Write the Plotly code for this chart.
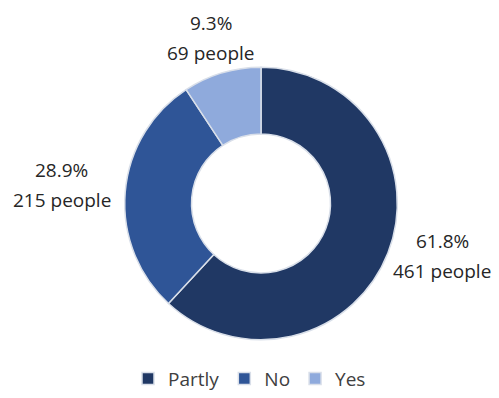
import math
import plotly.graph_objects as go

labels = ["Partly", "No", "Yes"]
values = [461, 215, 69]
percents = [61.8, 28.9, 9.3]
colors = ["#203864", "#2F5597", "#8FAADC"]

W, H = 499, 398
cx, cy, R = 261, 206, 138
label_r = [189, 200, 175]
label_nudge_deg = [-5, 0.5, 0]

total = sum(values)
fig = go.Figure(go.Pie(
    labels=labels, values=values, hole=0.51, sort=False, direction="clockwise",
    rotation=0, marker=dict(colors=colors, line=dict(color="#d9dfe9", width=1.5)),
    textinfo="none", hoverinfo="label+value+percent",
    domain=dict(x=[(cx - R) / W, (cx + R) / W], y=[(H - cy - R) / H, (H - cy + R) / H]),
))

cum = 0
for lab, v, p, r, nd in zip(labels, values, percents, label_r, label_nudge_deg):
    mid = (cum + v / 2) / total * 2 * math.pi + math.radians(nd)
    cum += v
    x = cx + r * math.sin(mid)
    y = cy - r * math.cos(mid)
    for txt, shift in ((f"{p:.1f}%", 15), (f"{v} people", -15)):
        fig.add_annotation(
            x=x / W, y=1 - y / H, xref="paper", yref="paper", showarrow=False,
            xanchor="center", yanchor="middle", yshift=shift,
            text=txt, align="center",
            font=dict(family="Open Sans", size=19, color="#262626"),
        )

fig.update_layout(
    width=W, height=H, margin=dict(l=0, r=0, t=0, b=0),
    paper_bgcolor="white", plot_bgcolor="white",
    showlegend=True,
    legend=dict(orientation="h", x=0.5, xanchor="center", y=-0.012, yanchor="bottom",
                font=dict(family="Open Sans", size=19, color="#404040"),
                itemwidth=30, tracegroupgap=0),
)
fig.write_html("out.html")
